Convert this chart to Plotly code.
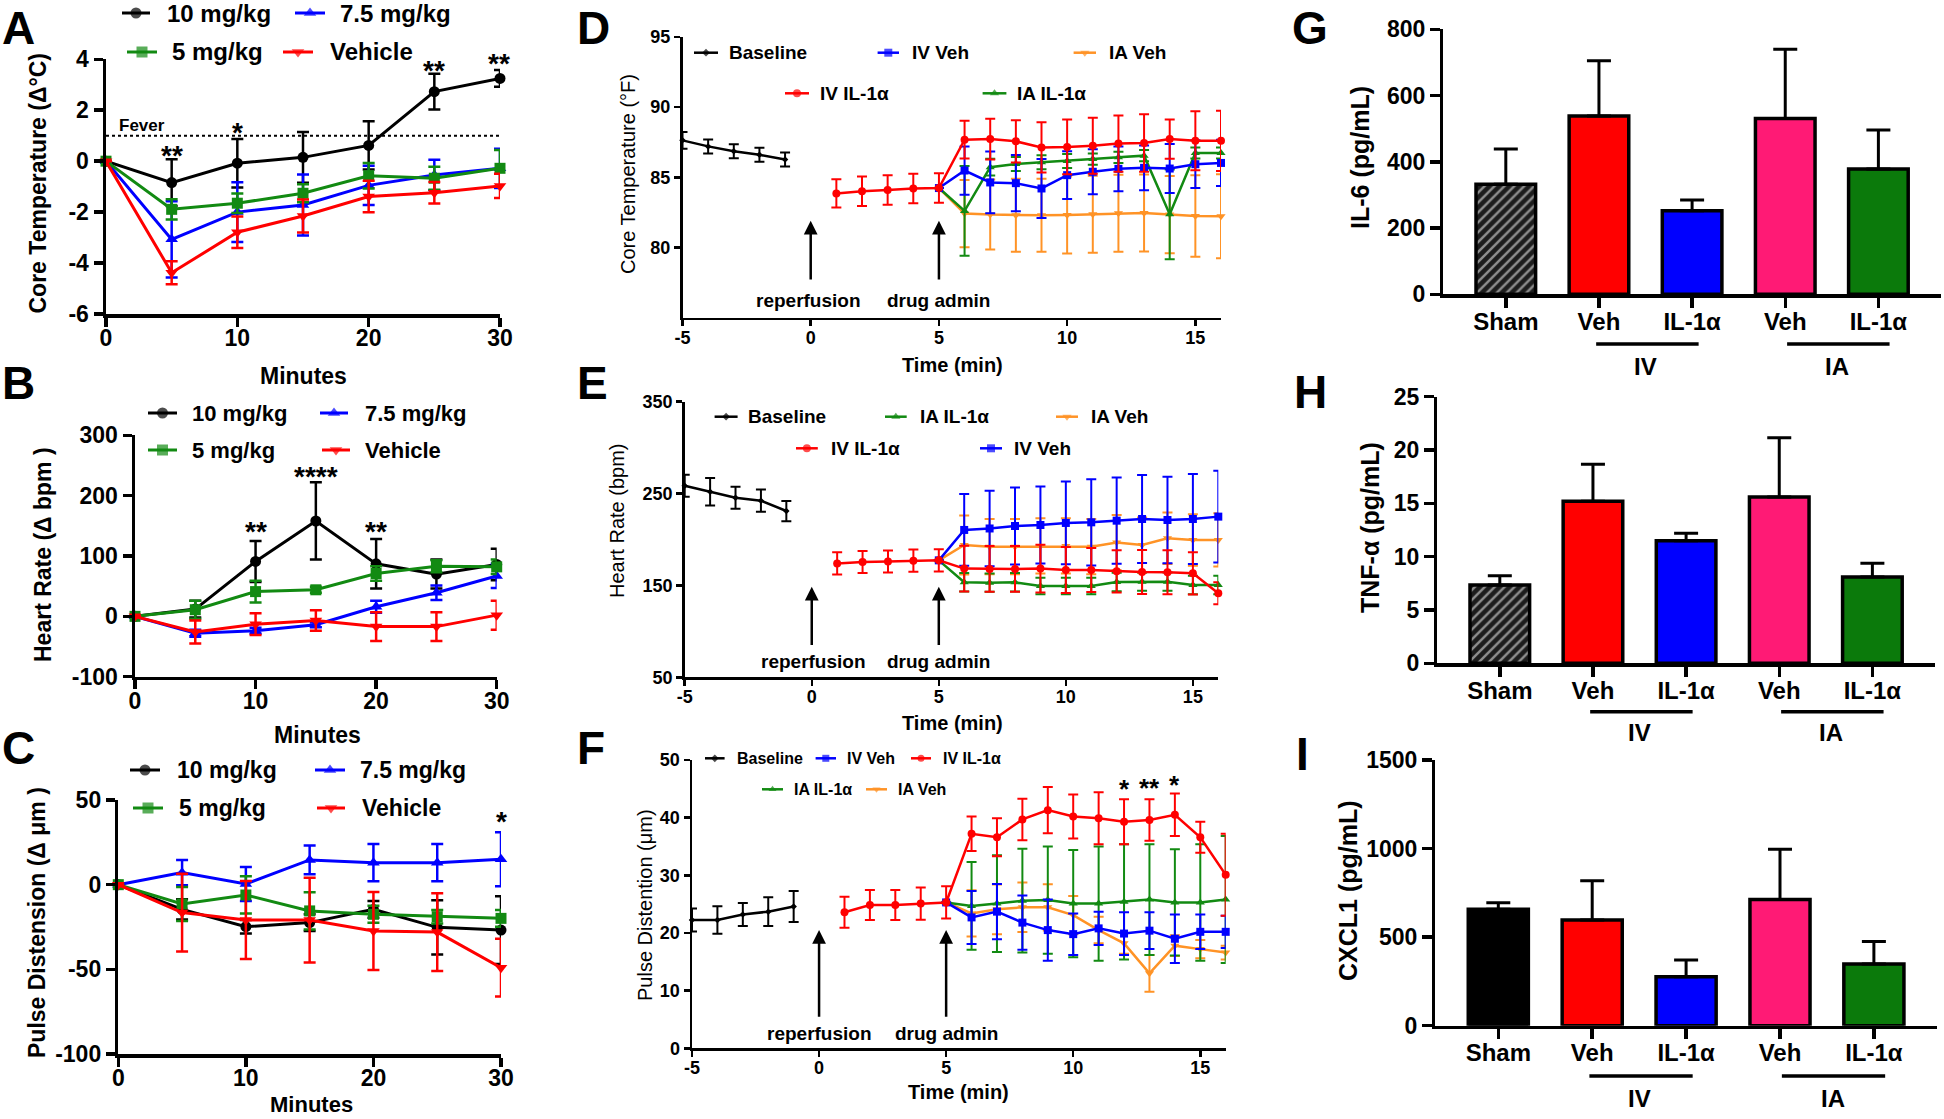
import plotly.graph_objects as go

W, H = 1944, 1119

# ---------------- data ----------------
minutes = [0, 5, 10, 15, 20, 25, 30]
dose_labels = ['10 mg/kg', '7.5 mg/kg', '5 mg/kg', 'Vehicle']

# Panel A: core temperature change (deg C)
a_10 = [0, -0.84, -0.08, 0.15, 0.62, 2.73, 3.25]
a_10_err = [0, 0.92, 0.95, 1.0, 0.95, 0.7, 0.33]
a_75 = [0, -3.07, -2.0, -1.72, -0.95, -0.54, -0.28]
a_75_err = [0, 1.5, 1.17, 1.2, 0.77, 0.6, 0.77]
a_5 = [0, -1.89, -1.65, -1.26, -0.57, -0.67, -0.28]
a_5_err = [0, 0.4, 0.38, 0.35, 0.5, 0.45, 0.72]
a_veh = [0, -4.38, -2.79, -2.15, -1.39, -1.24, -0.97]
a_veh_err = [0, 0.45, 0.62, 0.65, 0.62, 0.42, 0.48]
fever_level = 1
a_star_x = [5, 10, 25, 29.9]
a_star_y = [0.44, 1.34, 3.78, 4.05]
a_star_txt = ['**', '*', '**', '**']

# Panel B: heart rate change (bpm)
b_10 = [0, 12, 91, 158, 87, 70, 86]
b_10_err = [0, 14, 34, 64, 41, 24, 26]
b_75 = [0, -28, -24, -14, 16, 39, 67]
b_75_err = [0, 6, 5, 4, 10, 12, 20]
b_5 = [0, 11, 41, 44, 71, 83, 82]
b_5_err = [0, 15, 18, 5, 12, 10, 12]
b_veh = [0, -26, -13, -7, -17, -17, 2]
b_veh_err = [0, 19, 18, 17, 24, 24, 24]
b_star_x = [10, 15, 20]
b_star_y = [150, 241, 150]
b_star_txt = ['**', '****', '**']

# Panel C: pulse distension change (um)
c_10 = [0, -14.6, -24.8, -22.4, -14.6, -25.2, -26.8]
c_10_err = [0, 6, 4, 5, 5, 16, 20]
c_75 = [0, 7.1, 0.4, 14.6, 13, 13, 15]
c_75_err = [0, 7.5, 10, 8.5, 11, 11, 16]
c_5 = [0, -11.4, -6.1, -15.5, -17.5, -18.9, -19.9]
c_5_err = [0, 10, 11, 11, 5, 4, 5]
c_veh = [0, -16.5, -20.9, -20.9, -27.4, -28, -49]
c_veh_err = [0, 23, 23, 25, 23, 23, 17]
c_star_x = [30]
c_star_y = [40.5]
c_star_txt = ['*']

# Panels D-F: time courses
t_base = [-5, -4, -3, -2, -1]
t_ivil = list(range(1, 17))
t_post = list(range(5, 17))

d_base = [87.63, 87.2, 86.85, 86.6, 86.26]
d_base_err = [0.6, 0.5, 0.5, 0.5, 0.5]
d_ivil = [83.85, 84.0, 84.09, 84.2, 84.23, 87.68, 87.72, 87.56, 87.13, 87.16, 87.25, 87.4, 87.44, 87.72, 87.6, 87.6]
d_ivil_err = [1.0, 1.05, 1.05, 1.05, 1.05, 1.35, 1.45, 1.5, 1.8, 1.95, 2.0, 2.0, 2.05, 1.4, 2.1, 2.15]
d_ivveh = [84.23, 85.48, 84.63, 84.58, 84.2, 85.15, 85.39, 85.6, 85.67, 85.62, 85.93, 86.02]
d_ivveh_err = [0, 1.72, 2.2, 2.0, 2.1, 1.7, 1.6, 1.6, 1.6, 1.75, 1.7, 1.65]
d_iaveh = [84.23, 82.41, 82.34, 82.29, 82.29, 82.31, 82.36, 82.43, 82.45, 82.34, 82.24, 82.22]
d_iaveh_err = [0, 2.4, 2.5, 2.6, 2.6, 2.75, 2.75, 2.75, 2.75, 2.75, 2.9, 3.0]
d_iail = [84.23, 82.6, 85.72, 85.95, 86.07, 86.16, 86.3, 86.42, 86.54, 82.36, 86.73, 86.73]
d_iail_err = [0, 3.2, 0.6, 0.5, 0.5, 0.5, 0.4, 0.4, 0.4, 3.2, 0.4, 0.4]

e_base = [258.6, 252, 245.5, 242.3, 231]
e_base_err = [12, 15, 12, 12, 11]
e_ivil = [174, 175.5, 176, 177, 177.3, 168.3, 168, 168, 168.3, 166.8, 166.8, 165.4, 164.7, 164.3, 163.2, 141.4]
e_ivil_err = [12, 12, 12, 12, 12, 25, 25, 25, 26, 25, 24, 23, 24, 24, 23, 12]
e_ivveh = [177.3, 210.4, 212, 214.7, 215.8, 218, 218.7, 220.5, 222.3, 221.2, 222.3, 224.9]
e_ivveh_err = [0, 39, 41, 42, 42, 45, 47, 47, 48, 47, 49, 50]
e_iaveh = [177.3, 194, 192.2, 192.2, 193, 193, 192.2, 196.6, 194, 201.3, 199.5, 199.5]
e_iaveh_err = [0, 32, 30, 30, 30, 30, 30, 30, 30, 28, 28, 29]
e_iail = [177.3, 153.4, 153, 153.4, 149.4, 149.4, 149.4, 153.8, 154.1, 154.1, 150.5, 150.5]
e_iail_err = [0, 10, 10, 10, 9, 9, 9, 10, 10, 10, 10, 10]

f_base = [22.25, 22.25, 23.2, 23.7, 24.6]
f_base_err = [2.0, 2.4, 2.0, 2.5, 2.7]
f_ivil = [23.6, 24.85, 24.85, 25.1, 25.3, 37.2, 36.6, 39.7, 41.3, 40.2, 39.9, 39.3, 39.6, 40.5, 36.6, 30.1]
f_ivil_err = [2.7, 2.6, 2.6, 2.8, 2.8, 3.0, 3.3, 3.6, 4.0, 3.8, 4.5, 3.9, 3.6, 3.7, 2.7, 7.1]
f_ivveh = [25.3, 22.7, 23.7, 21.8, 20.5, 19.8, 20.8, 19.9, 20.4, 19.0, 20.2, 20.2]
f_ivveh_err = [0, 4.6, 4.8, 4.7, 5.3, 3.6, 2.9, 3.7, 3.2, 4.2, 3.0, 2.8]
f_iail = [25.3, 24.7, 25.1, 25.6, 25.7, 25.1, 25.1, 25.4, 25.8, 25.3, 25.3, 25.8]
f_iail_err = [0, 7.6, 8.4, 9.0, 9.3, 9.3, 9.9, 10.0, 9.6, 9.2, 10.1, 11.0]
f_iaveh = [25.3, 23.4, 24.1, 24.45, 24.45, 23.1, 20.5, 18.2, 13.0, 17.8, 17.2, 16.6]
f_iaveh_err = [0, 4.0, 4.3, 4.3, 4.0, 3.3, 2.3, 1.8, 3.2, 1.8, 1.6, 1.2]
f_star_x = [12, 13, 14]
f_star_y = [45.8, 46.0, 46.6]
f_star_txt = ['*', '**', '*']

# Panels G-I: cytokines
bar_labels = ['Sham', 'Veh', 'IL-1α', 'Veh', 'IL-1α']
g_il6 = [332, 538, 252, 531, 378]
g_il6_err = [107, 167, 33, 209, 118]
h_tnf = [7.34, 15.2, 11.5, 15.6, 8.1]
h_tnf_err = [0.88, 3.46, 0.69, 5.56, 1.28]
i_cxcl1 = [657, 597, 277, 713, 348]
i_cxcl1_err = [37, 222, 94, 283, 128]

# ---------------- styling ----------------
FONT = 'Liberation Sans, Arial, Helvetica, sans-serif'
BLACK, BLUE, RED = '#000000', '#0000FF', '#FF0000'
GREEN = '#128A12'
ORANGE = '#FF9326'
PINK = '#FF1A75'
DGREEN = '#0B7A0B'

fig = go.Figure()
YDOM = {}


def ref(i):
    return ('x' if i == 1 else f'x{i}', 'y' if i == 1 else f'y{i}')


def set_axes(i, xpx, ypx, xr, yr, xt, xtt, yt, ytt, lw, fs, tl, xstand):
    xn = 'xaxis' if i == 1 else f'xaxis{i}'
    yn = 'yaxis' if i == 1 else f'yaxis{i}'
    xr_, yr_ = ref(i)
    common = dict(showline=True, linecolor='black', linewidth=lw, ticks='outside',
                  ticklen=tl, tickwidth=lw, tickcolor='black', showgrid=False,
                  zeroline=False, fixedrange=True, tickmode='array', automargin=False,
                  tickfont=dict(family=FONT, size=fs, color='black', weight='bold'))
    ydom = [1 - ypx[1] / H, 1 - ypx[0] / H]
    YDOM[i] = (ydom, yr)
    fig.update_layout(**{
        xn: dict(domain=[xpx[0] / W, xpx[1] / W], range=xr, anchor=yr_,
                 tickvals=xt, ticktext=xtt, ticklabelstandoff=xstand, **common),
        yn: dict(domain=ydom, range=yr, anchor=xr_,
                 tickvals=yt, ticktext=ytt, **common),
    })


def y_paper(i, v):
    (d0, d1), (r0, r1) = YDOM[i]
    return d0 + (v - r0) / (r1 - r0) * (d1 - d0)


def series(i, x, y, err, color, symbol, ms, lw, et, ew):
    xr_, yr_ = ref(i)
    fig.add_trace(go.Scatter(
        x=x, y=y, xaxis=xr_, yaxis=yr_, mode='lines+markers',
        line=dict(color=color, width=lw),
        marker=dict(symbol=symbol, size=ms, color=color, line=dict(width=0)),
        error_y=dict(type='data', array=err, visible=True, color=color,
                     thickness=et, width=ew),
        cliponaxis=False, showlegend=False, hoverinfo='skip'))


def ann_px(text, x, y, size, bold=True, angle=0, xanchor='center', yanchor='middle'):
    fig.add_annotation(text=text, x=x / W, y=1 - y / H, xref='paper', yref='paper',
                       showarrow=False, textangle=angle, xanchor=xanchor, yanchor=yanchor,
                       font=dict(family=FONT, size=size, color='black',
                                 weight='bold' if bold else 'normal'))


def stars(i, xs, ys, txt, size):
    xr_, _ = ref(i)
    for x, y, t in zip(xs, ys, txt):
        fig.add_annotation(text=t, x=x, y=y_paper(i, y), xref=xr_, yref='paper',
                           showarrow=False, yshift=-0.2 * size,
                           xanchor='center', yanchor='middle',
                           font=dict(family=FONT, size=size, color='black', weight='bold'))


def legend_entry(x0, x1, y, color, symbol, ms, lw, label, tx, fs):
    fig.add_trace(go.Scatter(
        x=[x0, (x0 + x1) / 2, x1], y=[y, y, y], xaxis='x10', yaxis='y10',
        mode='lines+markers', line=dict(color=color, width=lw),
        marker=dict(symbol=symbol, size=[0, ms, 0], color=color, line=dict(width=0)),
        showlegend=False, hoverinfo='skip', cliponaxis=False))
    ann_px(label, tx, y, fs, xanchor='left')


def arrow(i, x, y_tip, y_tail):
    xr_, yr_ = ref(i)
    fig.add_annotation(x=x, y=y_tip, ax=x, ay=y_tail, xref=xr_, yref=yr_,
                       axref=xr_, ayref=yr_, showarrow=True, arrowhead=2,
                       arrowsize=1.1, arrowwidth=2.5, arrowcolor='black', text='',
                       standoff=0)


def data_text(i, text, x, y, size, bold=True):
    xr_, yr_ = ref(i)
    fig.add_annotation(text=text, x=x, y=y, xref=xr_, yref=yr_, showarrow=False,
                       xanchor='center', yanchor='middle',
                       font=dict(family=FONT, size=size, color='black',
                                 weight='bold' if bold else 'normal'))


def ticks_txt(vals):
    return [str(v) for v in vals]


# ---------------- Panels A-C ----------------
x_ticks_min = [0, 10, 20, 30]
dose_colors = [BLACK, BLUE, GREEN, RED]
dose_symbols = ['circle', 'triangle-up', 'square', 'triangle-down']

panels_abc = [
    (1, (106, 500), (59.3, 314), [-6, 4], [-6, -4, -2, 0, 2, 4],
     [(a_10, a_10_err), (a_75, a_75_err), (a_5, a_5_err), (a_veh, a_veh_err)]),
    (2, (135, 496.7), (435.3, 676.7), [-100, 300], [-100, 0, 100, 200, 300],
     [(b_10, b_10_err), (b_75, b_75_err), (b_5, b_5_err), (b_veh, b_veh_err)]),
    (3, (118.3, 501), (800, 1054), [-100, 50], [-100, -50, 0, 50],
     [(c_10, c_10_err), (c_75, c_75_err), (c_5, c_5_err), (c_veh, c_veh_err)]),
]
for i, xpx, ypx, yr, yt, sers in panels_abc:
    set_axes(i, xpx, ypx, [0, 30], yr, x_ticks_min, ticks_txt(x_ticks_min),
             yt, ticks_txt(yt), 3.5, 23, 9, -8)
    for (y, e), col, sym in zip(sers, dose_colors, dose_symbols):
        series(i, minutes, y, e, col, sym, 11, 3, 2.5, 6)

# fever line
fig.add_shape(type='line', xref='x', yref='y', x0=0, x1=30, y0=fever_level, y1=fever_level,
              line=dict(color='black', width=2, dash='dot'))
data_text(1, 'Fever', 2.74, 1.42, 17)
stars(1, a_star_x, a_star_y, a_star_txt, 28)
stars(2, b_star_x, b_star_y, b_star_txt, 28)
stars(3, c_star_x, c_star_y, c_star_txt, 28)

# ---------------- Panels D-F ----------------
x_ticks_t = [-5, 0, 5, 10, 15]
panels_def = [
    (4, (682.5, 1221), (37, 317.5), [75, 95], [80, 85, 90, 95],
     (d_base, d_base_err), (d_ivil, d_ivil_err), (d_ivveh, d_ivveh_err),
     (d_iaveh, d_iaveh_err), (d_iail, d_iail_err)),
    (5, (684.7, 1218.3), (401.7, 677.3), [50, 350], [50, 150, 250, 350],
     (e_base, e_base_err), (e_ivil, e_ivil_err), (e_ivveh, e_ivveh_err),
     (e_iaveh, e_iaveh_err), (e_iail, e_iail_err)),
    (6, (692, 1225.7), (760, 1048.3), [0, 50], [0, 10, 20, 30, 40, 50],
     (f_base, f_base_err), (f_ivil, f_ivil_err), (f_ivveh, f_ivveh_err),
     (f_iaveh, f_iaveh_err), (f_iail, f_iail_err)),
]
for i, xpx, ypx, yr, yt, base, ivil, ivveh, iaveh, iail in panels_def:
    set_axes(i, xpx, ypx, [-5, 16], yr, x_ticks_t, ticks_txt(x_ticks_t),
             yt, ticks_txt(yt), 2.5, 18, 6, -4)
    series(i, t_post, iaveh[0], iaveh[1], ORANGE, 'triangle-down', 8, 2.5, 2, 5)
    series(i, t_post, iail[0], iail[1], GREEN, 'triangle-up', 8, 2.5, 2, 5)
    series(i, t_post, ivveh[0], ivveh[1], BLUE, 'square', 8, 2.5, 2, 5)
    series(i, t_ivil, ivil[0], ivil[1], RED, 'circle', 8, 2.5, 2, 5)
    series(i, t_base, base[0], base[1], BLACK, 'diamond', 5, 2.5, 2, 5)

arrow(4, 0, 81.9, 77.6)
arrow(4, 5, 81.9, 77.6)
data_text(4, 'reperfusion', -0.07, 76.2, 19)
data_text(4, 'drug admin', 4.98, 76.2, 19)
arrow(5, 0, 148.7, 83.4)
arrow(5, 5, 148.7, 83.4)
data_text(5, 'reperfusion', 0.05, 67, 19)
data_text(5, 'drug admin', 4.99, 67, 19)
arrow(6, 0, 20.5, 5.2)
arrow(6, 5, 20.5, 5.2)
data_text(6, 'reperfusion', 0.0, 2.6, 19)
data_text(6, 'drug admin', 5.0, 2.6, 19)
stars(6, f_star_x, f_star_y, f_star_txt, 26)

# ---------------- Panels G-I ----------------
bar_x = list(range(len(bar_labels)))
bar_colors_gh = ['#1c1c1c', RED, BLUE, PINK, DGREEN]
bar_colors_i = [BLACK, RED, BLUE, PINK, DGREEN]
panels_ghi = [
    (7, (1443.4, 1940.8), (29.3, 294.3), [0, 800], [0, 200, 400, 600, 800],
     g_il6, g_il6_err, bar_colors_gh, ['/', '', '', '', ''], 344, 367),
    (8, (1437.4, 1934.8), (396.7, 663.3), [0, 25], [0, 5, 10, 15, 20, 25],
     h_tnf, h_tnf_err, bar_colors_gh, ['/', '', '', '', ''], 711.7, 732),
    (9, (1435.4, 1936.8), (760, 1025.7), [0, 1500], [0, 500, 1000, 1500],
     i_cxcl1, i_cxcl1_err, bar_colors_i, ['', '', '', '', ''], 1076, 1098),
]
for i, xpx, ypx, yr, yt, vals, errs, cols, pats, uline_y, grp_y in panels_ghi:
    set_axes(i, xpx, ypx, [-0.67, 4.67], yr, bar_x, bar_labels, yt, ticks_txt(yt),
             3.5, 23, 10, -7)
    fig.update_layout(**{f'xaxis{i}': dict(tickfont=dict(size=24))})
    xr_, yr_ = ref(i)
    fig.add_trace(go.Bar(
        x=bar_x, y=vals, xaxis=xr_, yaxis=yr_, width=0.64,
        marker=dict(color=cols, line=dict(color='black', width=3.5),
                    pattern=dict(shape=pats, fillmode='overlay', fgcolor='#7a7a7a',
                                 size=7, solidity=0.35)),
        error_y=dict(type='data', symmetric=False, array=errs, arrayminus=[0] * len(errs),
                     color='black', thickness=3, width=12),
        showlegend=False, hoverinfo='skip', cliponaxis=False))
    for gx0, gx1, gxc, gname in [(0.97, 2.07, 1.5, 'IV'), (3.02, 4.12, 3.56, 'IA')]:
        fig.add_shape(type='line', xref=xr_, yref='paper', x0=gx0, x1=gx1,
                      y0=1 - uline_y / H, y1=1 - uline_y / H,
                      line=dict(color='black', width=3.5))
        fig.add_annotation(text=gname, x=gxc, y=1 - grp_y / H, xref=xr_, yref='paper',
                           showarrow=False, xanchor='center', yanchor='middle',
                           font=dict(family=FONT, size=24, color='black', weight='bold'))

# ---------------- overlay axis for legends ----------------
fig.update_layout(
    xaxis10=dict(domain=[0, 1], range=[0, W], anchor='y10', visible=False,
                 fixedrange=True, automargin=False),
    yaxis10=dict(domain=[0, 1], range=[H, 0], anchor='x10', visible=False,
                 fixedrange=True, automargin=False),
)

legend_abc = [
    (24, [(122, 150, 13, 165), (295, 325, 13, 338), (127, 157, 52, 170), (283, 313, 52, 328)]),
    (22, [(148, 177, 413, 190), (320, 348, 413, 363), (148, 177, 450, 190), (322, 350, 450, 363)]),
    (23, [(130, 160, 770, 175), (315, 345, 770, 358), (133, 163, 808, 177), (317, 345, 808, 360)]),
]
for fs, entries in legend_abc:
    for (x0, x1, y, tx), lab, col, sym in zip(entries, dose_labels, dose_colors, dose_symbols):
        legend_entry(x0, x1, y, col, sym, 11, 3, lab, tx, fs)

leg_styles = {
    'Baseline': (BLACK, 'diamond'),
    'IV Veh': (BLUE, 'square'),
    'IA Veh': (ORANGE, 'triangle-down'),
    'IV IL-1α': (RED, 'circle'),
    'IA IL-1α': (GREEN, 'triangle-up'),
}
legend_def = [
    (19, 8, [('Baseline', 694, 718, 52.7, 727), ('IV Veh', 877.6, 899, 52.7, 910),
             ('IA Veh', 1073.6, 1096, 52.7, 1107), ('IV IL-1α', 785, 809, 93.3, 818),
             ('IA IL-1α', 982.6, 1006.4, 93.3, 1015)]),
    (19, 8, [('Baseline', 714.6, 737.6, 416.7, 746), ('IA IL-1α', 885, 906.7, 416.7, 917.5),
             ('IA Veh', 1056, 1078, 416.7, 1089), ('IV IL-1α', 796, 817.8, 448.3, 828.6),
             ('IV Veh', 980, 1002, 448.3, 1012)]),
    (16, 7, [('Baseline', 705, 724.6, 758.3, 734.5), ('IV Veh', 815.6, 836, 758.3, 844.7),
             ('IV IL-1α', 911, 931, 758.3, 941), ('IA IL-1α', 762, 783, 789.3, 791.8),
             ('IA Veh', 866, 887, 789.3, 896)]),
]
for fs, ms, entries in legend_def:
    for lab, x0, x1, y, tx in entries:
        col, sym = leg_styles[lab]
        legend_entry(x0, x1, y, col, sym, ms if lab != 'Baseline' else 6, 2.5, lab, tx, fs)

# ---------------- axis titles and panel letters ----------------
ann_px('Core Temperature (Δ°C)', 38, 183.5, 23, angle=-90)
ann_px('Heart Rate (Δ bpm )', 43, 555, 23, angle=-90)
ann_px('Pulse Distension (Δ μm )', 37, 923, 23, angle=-90)
ann_px('Minutes', 303, 376, 23)
ann_px('Minutes', 317, 735, 23)
ann_px('Minutes', 311, 1119, 22, yanchor='bottom')

ann_px('Core Temperature (°F)', 628, 174, 20, bold=False, angle=-90)
ann_px('Heart Rate (bpm)', 617, 521, 20, bold=False, angle=-90)
ann_px('Pulse Distention (μm)', 645, 905, 20, bold=False, angle=-90)
ann_px('Time (min)', 952, 365, 20)
ann_px('Time (min)', 952, 723, 20)
ann_px('Time (min)', 958, 1092, 20)

ann_px('IL-6 (pg/mL)', 1360, 158, 25, angle=-90)
ann_px('TNF-α (pg/mL)', 1370, 528, 25, angle=-90)
ann_px('CXCL1 (pg/mL)', 1348, 891, 25, angle=-90)

# top-row letters anchored at the top edge so they stay inside the page
for letter, x in [('A', 0), ('D', 575), ('G', 1290)]:
    ann_px(letter, x, 0, 46, xanchor='left', yanchor='top')
for letter, x, y in [('B', 0, 383), ('C', 0, 748),
                     ('E', 575, 383), ('F', 575, 748),
                     ('H', 1292, 392), ('I', 1294, 754)]:
    ann_px(letter, x, y, 46, xanchor='left')

fig.update_layout(
    width=W, height=H, margin=dict(l=0, r=0, t=0, b=0, pad=0, autoexpand=False),
    paper_bgcolor='white', plot_bgcolor='rgba(0,0,0,0)',
    showlegend=False, bargap=0,
    font=dict(family=FONT, color='black'),
)

fig.write_html("out.html", include_plotlyjs=True,
               config={'displayModeBar': False, 'staticPlot': True},
               post_script="document.body.style.margin='0';document.body.style.overflow='hidden';")
